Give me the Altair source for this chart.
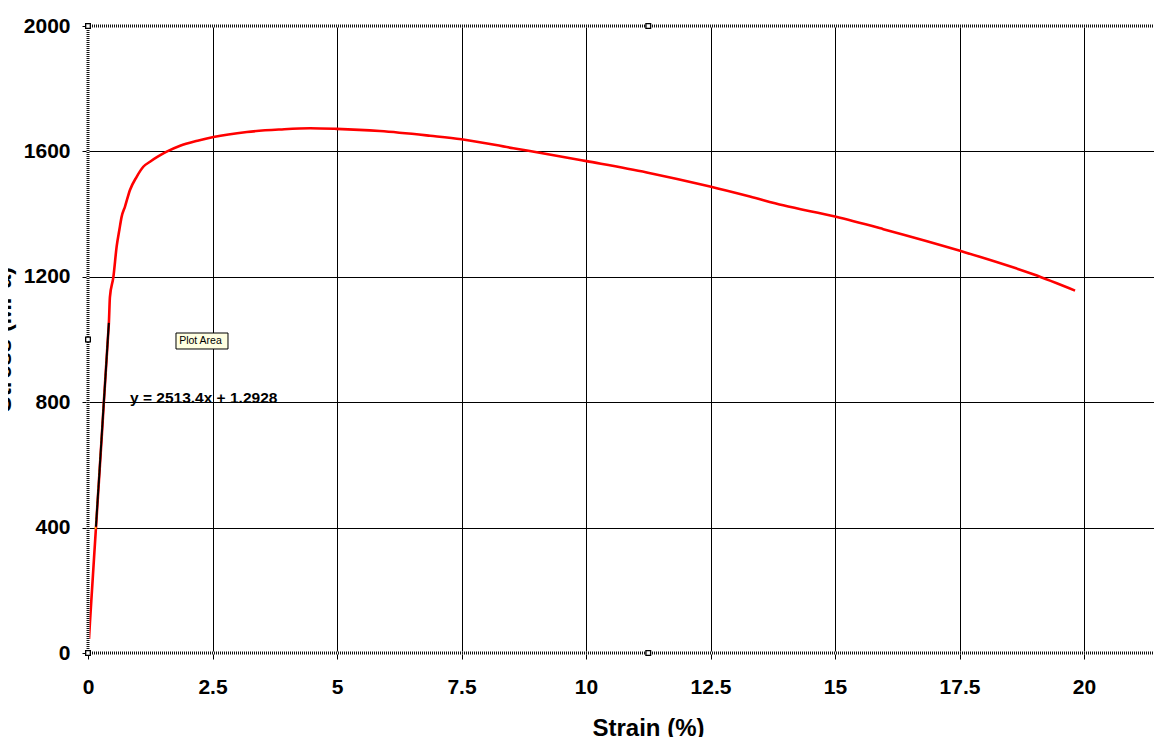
import altair as alt
import pandas as pd

# ---- data ----
strain = [0.02, 0.04, 0.08, 0.12, 0.16, 0.20, 0.24, 0.28, 0.32, 0.36,
          0.40, 0.42, 0.44, 0.51, 0.575, 0.63, 0.676, 0.743, 0.843, 0.977,
          1.11, 1.245, 1.40, 1.58, 1.85, 2.20, 2.52, 3.19, 3.86, 4.46,
          4.99, 5.86, 6.87, 7.50, 8.54, 9.21, 10.01, 11.22, 12.49, 13.29,
          13.96, 15.00, 15.97, 17.51, 18.98, 19.82]
stress = [45, 100, 200, 300, 400, 500, 600, 700, 805, 905,
          1005, 1055, 1135, 1200, 1296, 1350, 1392, 1424, 1477, 1519,
          1551, 1567, 1583, 1599, 1618, 1634, 1646, 1662, 1670, 1674,
          1672, 1665, 1650, 1639, 1610, 1592, 1569, 1533, 1488, 1456,
          1428, 1392, 1352, 1283, 1208, 1156]

fit_strain = [0.16, 0.4185]
fit_stress = [403, 1053]

yellow_strain = [0.15, 0.19, 0.245, 0.30, 0.35, 0.40]
yellow_stress = [395, 490, 625, 760, 885, 1010]

x_ticks = [0, 2.5, 5, 7.5, 10, 12.5, 15, 17.5, 20]
y_ticks = [0, 400, 800, 1200, 1600, 2000]

handle_x = [0, 11.25, 0, 11.25, 0]
handle_y = [2000, 2000, 1000, 0, 0]

equation = "y = 2513.4x + 1.2928"
tip_label = "Plot Area"

X_MAX = 21.405
Y_MAX = 2000
FONT = "Liberation Sans, Arial, Helvetica, sans-serif"

xs = alt.Scale(domain=[0, X_MAX], nice=False, zero=False)
ys = alt.Scale(domain=[0, Y_MAX], nice=False, zero=False)

curve_df = pd.DataFrame({"strain": strain, "stress": stress})
fit_df = pd.DataFrame({"strain": fit_strain, "stress": fit_stress})
yel_df = pd.DataFrame({"strain": yellow_strain, "stress": yellow_stress})
handle_df = pd.DataFrame({"strain": handle_x, "stress": handle_y})
one = pd.DataFrame({"k": [0]})

x_axis = alt.Axis(
    values=x_ticks, format=".4~g", title="Strain (%)",
    grid=True, gridColor="black", gridWidth=1, gridOpacity=1,
    domain=False, ticks=True, tickSize=6, tickColor="black", tickWidth=1,
    labelFont=FONT, labelFontSize=21, labelFontWeight="bold", labelColor="black",
    labelPadding=17, labelFlush=False, labelOverlap=False,
    titleFont=FONT, titleFontSize=24, titleFontWeight="bold", titleColor="black",
    titleX=560, titleY=63, titleBaseline="top", titleAlign="center",
)
y_axis = alt.Axis(
    values=y_ticks, format="d", title="Stress (MPa)",
    grid=True, gridColor="black", gridWidth=1, gridOpacity=1,
    domain=False, ticks=True, tickSize=6, tickColor="black", tickWidth=1,
    labelFont=FONT, labelFontSize=21, labelFontWeight="bold", labelColor="black",
    labelPadding=12, labelFlush=False, labelOverlap=False,
    titleFont=FONT, titleFontSize=24, titleFontWeight="bold", titleColor="black",
    titleAngle=270, titleX=-78, titleY=313, titleBaseline="alphabetic", titleAlign="center",
)

curve = alt.Chart(curve_df).mark_line(color="#FF0000", strokeWidth=2.6, interpolate="monotone").encode(
    x=alt.X("strain:Q", scale=xs, axis=x_axis),
    y=alt.Y("stress:Q", scale=ys, axis=y_axis),
    order=alt.Order("strain:Q"),
)

def rule_layer(x1, x2, y1, y2, color, width, dash=None):
    kw = dict(color=color, strokeWidth=width)
    if dash is not None:
        kw["strokeDash"] = dash
    return alt.Chart(one).mark_rule(**kw).encode(
        x=alt.X(datum=x1, scale=xs),
        x2=alt.X2(datum=x2),
        y=alt.Y(datum=y1, scale=ys),
        y2=alt.Y2(datum=y2),
    )

borders = []
for (a, b, c, d) in [(0, X_MAX, Y_MAX, Y_MAX), (0, X_MAX, 0, 0), (0, 0, 0, Y_MAX)]:
    borders.append(rule_layer(a, b, c, d, "white", 3))
    borders.append(rule_layer(a, b, c, d, "#111111", 3, [1, 1]))

yellow = alt.Chart(yel_df).mark_line(color="#FFC800", strokeWidth=1.5, strokeDash=[2, 2]).encode(
    x=alt.X("strain:Q", scale=xs),
    y=alt.Y("stress:Q", scale=ys),
)

fit = alt.Chart(fit_df).mark_line(color="black", strokeWidth=2).encode(
    x=alt.X("strain:Q", scale=xs),
    y=alt.Y("stress:Q", scale=ys),
)

eq_text = alt.Chart(one).mark_text(
    text=equation, align="left", baseline="middle",
    font=FONT, fontSize=15.5, fontWeight="bold", color="black",
).encode(
    x=alt.X(datum=0.843, scale=xs),
    y=alt.Y(datum=813, scale=ys),
)

tip_box = alt.Chart(one).mark_rect(fill="#FFFFE1", stroke="black", strokeWidth=1).encode(
    x=alt.X(datum=1.767, scale=xs),
    x2=alt.X2(datum=2.811),
    y=alt.Y(datum=1020.7, scale=ys),
    y2=alt.Y2(datum=969.7),
)
tip_text = alt.Chart(one).mark_text(
    text=tip_label, align="left", baseline="middle",
    font=FONT, fontSize=10.5, color="black",
).encode(
    x=alt.X(datum=1.83, scale=xs),
    y=alt.Y(datum=995, scale=ys),
)

handles = alt.Chart(handle_df).mark_square(
    size=22, filled=True, fill="white", stroke="black", strokeWidth=1.3, opacity=1
).encode(
    x=alt.X("strain:Q", scale=xs),
    y=alt.Y("stress:Q", scale=ys),
)

chart = alt.layer(
    curve, *borders, yellow, fit, eq_text, tip_box, tip_text, handles
).properties(
    width=1066,
    height=627,
    autosize=alt.AutoSizeParams(type="none"),
    padding={"left": 80, "top": 18, "right": 0, "bottom": 84},
    background="white",
).configure_view(strokeWidth=0)

chart.save("out.html", embed_options={"renderer": "svg", "actions": False})
